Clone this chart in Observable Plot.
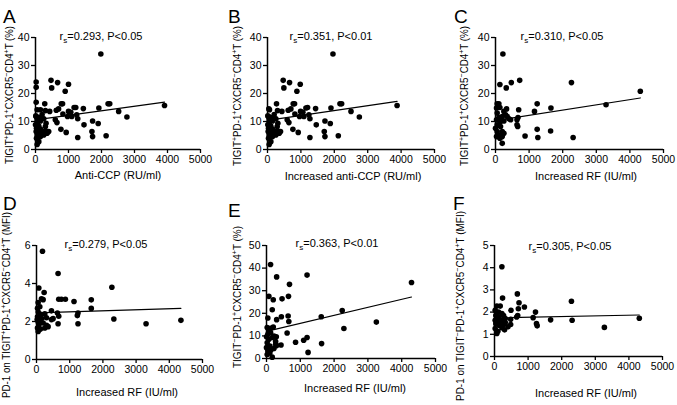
<!DOCTYPE html>
<html>
<head>
<meta charset="utf-8">
<script src="https://cdn.jsdelivr.net/npm/d3@7"></script>
<script src="https://cdn.jsdelivr.net/npm/@observablehq/plot@0.6"></script>
<style>
  html, body { margin: 0; padding: 0; background: #fff; }
  #chart { position: relative; width: 677px; height: 405px; overflow: hidden; background: #fff; }
  #chart > svg { position: absolute; }
</style>
</head>
<body>
<div id="chart"></div>
<script>
// ---------------- DATA ----------------
const xTicks = [0, 1000, 2000, 3000, 4000, 5000];
const yTicksA = [0, 10, 20, 30, 40];
const yTicksD = [0, 2, 4, 6];
const yTicksE = [0, 10, 20, 30, 40, 50];
const yTicksF = [0, 1, 2, 3, 4, 5];

const xA = [1980,470,670,1000,20,20,490,900,20,280,780,820,2200,2250,3910,1920,1220,1170,1450,150,50,300,430,630,700,1000,1070,830,2520,2770,1250,1280,970,1100,600,650,1730,1900,1470,770,930,1710,1730,1280,2140,400,300,320,20,100,200,50,150,250,50,0,100,30,150,20,100,200,50,150,250,30,100,50,300,350,200,10];
const yA = [34.1,24.7,23.9,23.3,24.1,22.2,22.0,20.8,16.9,16.3,16.3,16.3,16.3,16.3,15.7,14.8,15.0,15.0,14.6,14.2,14.2,13.9,13.6,14.0,14.5,13.6,13.3,12.7,13.6,11.6,12.4,11.0,11.8,11.8,10.6,9.6,10.2,9.3,8.8,7.2,6.1,6.4,4.6,4.3,4.9,6.4,8.2,9.4,11.8,11.4,11.2,10.6,10.2,11.0,9.4,8.8,8.4,7.6,7.3,6.4,5.8,6.4,5.2,4.6,5.2,4.0,2.8,1.8,6.7,5.8,12.5,12.0];

const xB = [1960,470,660,980,490,880,270,770,810,2170,2220,3880,1900,1200,1150,1440,40,60,300,430,620,700,990,1060,820,2500,2750,1240,1270,960,1090,590,640,1720,1880,1460,760,920,1700,1720,1270,2120,390,290,310,30,100,200,50,150,250,50,10,100,30,150,20,100,200,50,150,250,30,100,50,300,350,200,10];
const yB = [34.1,24.7,23.9,23.3,22.0,20.8,16.3,16.3,16.3,16.3,16.3,15.7,14.8,15.0,14.8,14.6,14.5,14.2,13.9,13.6,14.0,14.5,13.6,13.3,12.7,13.6,11.6,12.4,11.0,11.8,11.8,10.6,9.6,10.2,9.3,8.8,7.2,6.1,6.4,4.6,4.3,4.9,6.4,8.2,9.4,11.8,11.4,11.2,10.6,10.2,11.0,9.4,8.8,8.4,7.6,7.3,6.4,5.8,6.4,5.2,4.6,5.2,4.0,2.8,1.8,6.7,5.8,12.5,12.0];

const xC = [220,130,470,720,320,2260,4310,3290,1240,1650,690,1160,450,670,640,640,660,880,1240,1260,1640,2310,200,50,100,30,130,50,250,330,300,200,100,30,150,250,350,400,50,150,0,50,200,100,30,200,130,250];
const yC = [34.1,23.2,23.9,24.7,22.0,23.9,20.8,16.0,16.3,14.8,14.2,13.6,10.6,11.4,10.6,8.8,8.2,4.8,7.2,4.3,6.6,4.3,2.2,16.3,16.3,14.8,15.0,13.0,13.6,14.5,12.4,11.8,11.4,10.6,10.0,10.2,11.8,11.0,8.8,8.2,7.6,6.4,6.4,5.2,4.6,4.6,4.0,5.8];

const xD = [180,650,2270,70,230,150,200,670,750,870,1130,1650,1650,450,1250,1230,1250,2330,3300,4350,650,670,630,500,450,50,30,100,50,130,250,30,150,300,50,200,70,300,30,250,50,350,100,20,120];
const yD = [5.7,4.53,3.8,3.76,3.53,3.2,3.15,3.17,3.17,3.17,3.05,3.14,2.69,2.56,2.45,2.31,1.88,2.13,1.88,2.06,1.88,2.28,2.45,2.15,2.1,3.0,2.7,2.78,2.5,2.38,2.4,2.25,2.15,2.2,1.97,1.92,1.8,1.8,1.66,1.66,1.48,1.73,2.05,2.1,1.6];

const xE = [120,300,1200,4290,680,70,200,460,650,170,2240,1620,300,440,640,660,40,610,2290,3250,1100,1200,860,1630,1230,430,170,290,300,20,70,40,120,0,170,70,220,20,100,270,0,140,40,220,20,100,270,120,200];
const yE = [41.6,36.1,36.9,33.6,32.8,27.5,26.0,26.4,27.5,21.6,21.2,18.5,17.2,18.5,18.8,16.4,17.9,11.3,13.3,16.1,8.1,9.3,7.2,6.6,2.7,6.0,0.6,9.6,5.7,13.7,12.2,10.7,11.5,9.6,9.3,8.5,9.9,7.0,5.5,7.5,4.8,4.0,3.3,4.4,1.8,2.5,6.3,13.4,13.9];

const xF = [220,680,2290,240,730,890,710,490,1220,690,660,1150,1250,1270,1670,2310,3270,4310,480,480,300,400,70,170,20,120,220,40,120,270,20,100,200,320,40,140,270,20,100,220,70,320];
const yF = [4.04,2.82,2.49,2.63,2.42,2.23,2.15,2.08,2.0,1.85,1.78,1.75,1.48,1.38,1.65,1.63,1.31,1.72,1.44,1.68,1.2,1.34,2.27,2.27,2.08,2.0,1.93,1.85,1.78,1.85,1.63,1.59,1.63,1.71,1.48,1.41,1.44,1.26,1.14,1.3,1.04,1.53];

// fitted regression lines (endpoints)
const fitXA = [0, 3910], fitYA = [10.6, 16.9];
const fitXB = [0, 3880], fitYB = [10.4, 17.2];
const fitXC = [0, 4310], fitYC = [10.3, 18.4];
const fitXD = [0, 4350], fitYD = [2.45, 2.69];
const fitXE = [0, 4290], fitYE = [12.0, 27.2];
const fitXF = [0, 4310], fitYF = [1.74, 1.87];

const letters = ["A", "B", "C", "D", "E", "F"];
const xLabels = ["Anti-CCP (RU/ml)", "Increased anti-CCP (RU/ml)", "Increased RF (IU/ml)", "Increased RF (IU/ml)", "Increased RF (IU/ml)", "Increased RF (IU/ml)"];
const yLabels = [
  "TIGIT^+PD-1^+CXCR5^\u2212CD4^+T (%)",
  "TIGIT^+PD-1^+CXCR5^\u2212CD4^+T (%)",
  "TIGIT^+PD-1^+CXCR5^\u2212CD4^+T (%)",
  "PD-1 on TIGIT^+PD-1^+CXCR5^\u2212CD4^+T (MFI)",
  "TIGIT^\u2212PD-1^+CXCR5^\u2212CD4^+T (%)",
  "PD-1 on TIGIT^\u2212PD-1^+CXCR5^\u2212CD4^+T (MFI)"
];
const rsValues = ["0.293", "0.351", "0.310", "0.279", "0.363", "0.305"];
const pValues = ["P<0.05", "P<0.01", "P<0.05", "P<0.05", "P<0.01", "P<0.05"];

// ---------------- LAYOUT ----------------
const FONT = "'Liberation Sans', Arial, Helvetica, sans-serif";
// yl: [baseline x, center y, target length]
const layout = [
  {left: 0,   top: 0,   w: 225, h: 200, ml: 35, mr: 25, mt: 37, mb: 51, yMax: 40, yTicks: yTicksA, letter: [3, 23],   xl: [118, 179], yl: [13, 95, 138],  st: [101, 40]},
  {left: 225, top: 0,   w: 225, h: 200, ml: 42, mr: 16, mt: 37, mb: 51, yMax: 40, yTicks: yTicksA, letter: [228, 23], xl: [353, 180], yl: [241, 96, 140], st: [331, 40]},
  {left: 450, top: 0,   w: 227, h: 200, ml: 45, mr: 14, mt: 37, mb: 51, yMax: 40, yTicks: yTicksA, letter: [454, 23], xl: [586, 180], yl: [468, 96, 140], st: [562, 40]},
  {left: 0,   top: 200, w: 225, h: 205, ml: 36, mr: 23, mt: 45, mb: 46, yMax: 6,  yTicks: yTicksD, letter: [3, 210],  xl: [127, 396], yl: [10, 305, 186], st: [106, 248]},
  {left: 225, top: 200, w: 225, h: 205, ml: 41, mr: 15, mt: 45, mb: 47, yMax: 50, yTicks: yTicksE, letter: [228, 217], xl: [355, 392], yl: [241, 297, 142], st: [337, 247]},
  {left: 450, top: 200, w: 227, h: 205, ml: 44, mr: 15, mt: 45, mb: 49, yMax: 5,  yTicks: yTicksF, letter: [453, 210], xl: [586, 397], yl: [464, 306, 190], st: [570, 250]}
];

const series = [[xA, yA, fitXA, fitYA], [xB, yB, fitXB, fitYB], [xC, yC, fitXC, fitYC],
                [xD, yD, fitXD, fitYD], [xE, yE, fitXE, fitYE], [xF, yF, fitXF, fitYF]];

const chart = document.getElementById("chart");

series.forEach(([xs, ys, fx, fy], i) => {
  const L = layout[i];
  const pts = xs.map((x, k) => ({x, y: ys[k]}));
  const fit = fx.map((x, k) => ({x, y: fy[k]}));
  const plot = Plot.plot({
    width: L.w, height: L.h,
    marginLeft: L.ml, marginRight: L.mr, marginTop: L.mt, marginBottom: L.mb,
    style: {fontFamily: FONT, fontSize: "10.5px", background: "transparent", color: "#000", overflow: "visible"},
    x: {domain: [0, 5000]},
    y: {domain: [0, L.yMax]},
    marks: [
      Plot.axisX({ticks: xTicks, tickSize: 4, tickPadding: 2, label: null, strokeWidth: 1.3, tickFormat: d => String(d)}),
      Plot.axisY({ticks: L.yTicks, tickSize: 4, tickPadding: 2, label: null, strokeWidth: 1.3, tickFormat: d => String(d)}),
      Plot.ruleY([0], {stroke: "#000", strokeWidth: 1.5}),
      Plot.ruleX([0], {stroke: "#000", strokeWidth: 1.5}),
      Plot.line(fit, {x: "x", y: "y", stroke: "#000", strokeWidth: 1.2}),
      Plot.dot(pts, {x: "x", y: "y", r: 2.8, fill: "#000", stroke: "none"})
    ]
  });
  plot.style.left = L.left + "px";
  plot.style.top = L.top + "px";
  chart.appendChild(plot);
});

// overlay for texts
const svg = d3.select(chart).append("svg")
  .attr("width", 677).attr("height", 405)
  .style("left", "0px").style("top", "0px")
  .style("font-family", FONT);

function addSupText(sel, str, size) {
  sel.selectAll("tspan").remove();
  const parts = str.split(/\^([+\u2212])/);
  let shifted = false;
  parts.forEach((p, k) => {
    if (p === "") return;
    const isSup = k % 2 === 1;
    const t = sel.append("tspan").text(p);
    if (isSup) {
      t.attr("font-size", size * 0.72).attr("dy", shifted ? 0 : -size * 0.38);
      shifted = true;
    } else {
      t.attr("font-size", size).attr("dy", shifted ? size * 0.38 : 0);
      shifted = false;
    }
  });
}

layout.forEach((L, i) => {
  svg.append("text").attr("x", L.letter[0]).attr("y", L.letter[1])
    .attr("font-size", 19).text(letters[i]);
  svg.append("text").attr("x", L.xl[0]).attr("y", L.xl[1])
    .attr("text-anchor", "middle").attr("font-size", 11).text(xLabels[i]);
  const yt = svg.append("text")
    .attr("transform", `translate(${L.yl[0]},${L.yl[1]}) rotate(-90)`)
    .attr("text-anchor", "middle");
  addSupText(yt, yLabels[i], 10.5);
  yt.attr("textLength", L.yl[2]).attr("lengthAdjust", "spacingAndGlyphs");
  const st = svg.append("text").attr("x", L.st[0]).attr("y", L.st[1])
    .attr("text-anchor", "middle").attr("font-size", 11);
  st.append("tspan").text("r");
  st.append("tspan").attr("font-size", 8).attr("dy", 3).text("s");
  st.append("tspan").attr("dy", -3).text("=" + rsValues[i] + ", " + pValues[i]);
});
</script>
</body>
</html>
